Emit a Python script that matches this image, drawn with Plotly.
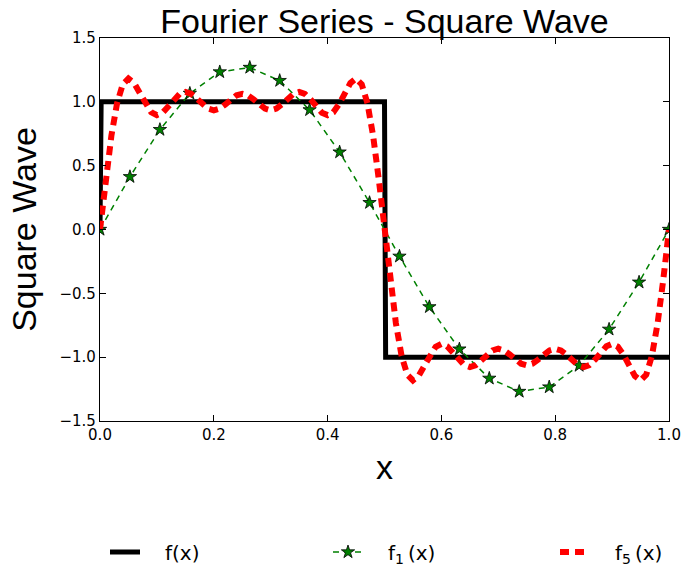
import plotly.graph_objects as go

# Square wave f(x)
sq_x = [0.0, 0.002, 0.5, 0.502, 1.0]
sq_y = [0.0, 1.0, 1.0, -1.0, -1.0]

# f1 sampled at 20 points (stars)
f1_x = [0.0, 0.0526, 0.1053, 0.1579, 0.2105, 0.2632, 0.3158, 0.3684, 0.4211, 0.4737,
        0.5263, 0.5789, 0.6316, 0.6842, 0.7368, 0.7895, 0.8421, 0.8947, 0.9474, 1.0]
f1_y = [0.0, 0.413, 0.782, 1.066, 1.234, 1.269, 1.166, 0.937, 0.606, 0.210,
        -0.210, -0.606, -0.937, -1.166, -1.269, -1.234, -1.066, -0.782, -0.413, 0.0]

# f5 read at steps of 0.01
f5_x = [i / 100 for i in range(101)]
f5_y = [0.000, 0.391, 0.734, 0.989, 1.137, 1.182, 1.147, 1.068, 0.981, 0.918,
        0.896, 0.915, 0.963, 1.019, 1.062, 1.077, 1.063, 1.026, 0.981, 0.947,
        0.934, 0.947, 0.979, 1.019, 1.051, 1.063, 1.051, 1.019, 0.979, 0.947,
        0.934, 0.947, 0.981, 1.026, 1.063, 1.077, 1.062, 1.019, 0.963, 0.915,
        0.896, 0.918, 0.981, 1.068, 1.147, 1.182, 1.137, 0.989, 0.734, 0.391,
        0.000, -0.391, -0.734, -0.989, -1.137, -1.182, -1.147, -1.068, -0.981, -0.918,
        -0.896, -0.915, -0.963, -1.019, -1.062, -1.077, -1.063, -1.026, -0.981, -0.947,
        -0.934, -0.947, -0.979, -1.019, -1.051, -1.063, -1.051, -1.019, -0.979, -0.947,
        -0.934, -0.947, -0.981, -1.026, -1.063, -1.077, -1.062, -1.019, -0.963, -0.915,
        -0.896, -0.918, -0.981, -1.068, -1.147, -1.182, -1.137, -0.989, -0.734, -0.391,
        0.000]

x_ticks = [0.0, 0.2, 0.4, 0.6, 0.8, 1.0]
y_ticks = [-1.5, -1.0, -0.5, 0.0, 0.5, 1.0, 1.5]

fig = go.Figure()
fig.add_trace(go.Scatter(x=sq_x, y=sq_y, mode="lines", name="\u2003f(x)", legend="legend",
                         line=dict(color="black", width=5)))
fig.add_trace(go.Scatter(x=f1_x, y=f1_y, mode="lines+markers", legend="legend2",
                         name="\u2003f<sub>1</sub>\u2009(x)",
                         line=dict(color="#008000", width=1.5, dash="6px,5px"),
                         marker=dict(symbol="star", size=10, color="#008000",
                                     line=dict(color="black", width=0.8))))
fig.add_trace(go.Scatter(x=f5_x, y=f5_y, mode="lines", legend="legend3",
                         name="\u2003f<sub>5</sub>\u2009(x)",
                         line=dict(color="#ff0000", width=6, dash="9px,6px")))

axis_common = dict(showline=True, linecolor="black", linewidth=1.2, mirror="allticks",
                   ticks="inside", ticklen=6, tickcolor="black", showgrid=False,
                   zeroline=False, tickformat=".1f",
                   tickfont=dict(family="DejaVu Sans", size=15, color="black"))

big = dict(family="Liberation Sans", size=34, color="black")
leg_common = dict(orientation="h", yref="container", y=1 - 552 / 567, yanchor="middle",
                  xref="container", xanchor="left", bgcolor="rgba(0,0,0,0)",
                  font=dict(family="DejaVu Sans", size=20, color="black"))

fig.update_layout(
    width=682, height=567,
    margin=dict(l=100, r=13, t=38, b=146, autoexpand=False),
    paper_bgcolor="white", plot_bgcolor="white",
    title=dict(text="Fourier Series - Square Wave", x=0.5, xref="paper",
               y=1, yref="paper", yanchor="bottom", pad=dict(b=5), font=big),
    xaxis=dict(range=[0, 1], tickvals=x_ticks, **axis_common,
               title=dict(text="x", standoff=12, font=big)),
    yaxis=dict(range=[-1.5, 1.5], tickvals=y_ticks, **axis_common,
               title=dict(text="Square Wave", standoff=12, font=big)),
    legend=dict(x=105 / 682, **leg_common),
    legend2=dict(x=328 / 682, **leg_common),
    legend3=dict(x=555 / 682, **leg_common),
    showlegend=True,
)

fig.write_html("out.html")
